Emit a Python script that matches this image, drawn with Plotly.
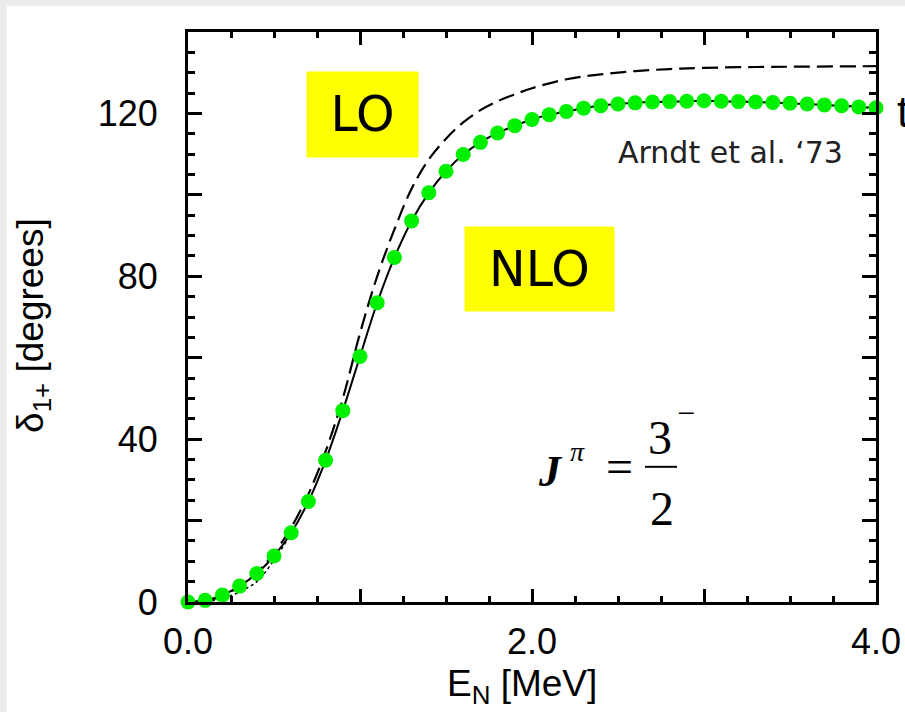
import plotly.graph_objects as go

# ---------------- data ----------------
arndt_energy = [0.0, 0.1, 0.2, 0.3, 0.4, 0.5, 0.6, 0.7, 0.8, 0.9,
                1.0, 1.1, 1.2, 1.3, 1.4, 1.5, 1.6, 1.7, 1.8, 1.9,
                2.0, 2.1, 2.2, 2.3, 2.4, 2.5, 2.6, 2.7, 2.8, 2.9,
                3.0, 3.1, 3.2, 3.3, 3.4, 3.5, 3.6, 3.7, 3.8, 3.9, 4.0]
arndt_phase = [0.0, 0.4, 1.7, 3.9, 7.0, 11.3, 17.0, 24.7, 34.8, 47.0,
               60.3, 73.5, 84.6, 93.6, 100.5, 105.8, 109.9, 112.9, 115.2, 117.0,
               118.5, 119.7, 120.5, 121.3, 121.9, 122.3, 122.6, 122.8, 122.9, 123.0,
               123.1, 123.0, 122.9, 122.8, 122.7, 122.5, 122.3, 122.1, 121.9, 121.6, 121.4]

nlo_energy = arndt_energy
nlo_phase = [0.0, 0.4, 1.7, 3.9, 7.0, 11.3, 17.0, 24.7, 34.8, 47.0,
             60.3, 73.5, 84.6, 93.6, 100.5, 105.8, 109.9, 112.9, 115.2, 117.0,
             118.5, 119.7, 120.5, 121.3, 121.9, 122.3, 122.6, 122.8, 122.9, 123.0,
             123.1, 123.0, 122.9, 122.8, 122.7, 122.5, 122.3, 122.1, 121.9, 121.6, 121.4]

lo_energy = [0.0, 0.1, 0.2, 0.3, 0.4, 0.5, 0.6, 0.7, 0.8, 0.9, 1.0, 1.1, 1.2, 1.3,
             1.4, 1.5, 1.6, 1.7, 1.8, 1.9, 2.0, 2.2, 2.4, 2.6, 2.8, 3.0, 3.3, 3.6, 4.0]
lo_phase = [0.0, 0.3, 1.5, 3.8, 7.2, 12.0, 18.3, 26.5, 37.0, 50.0, 66.0, 80.0, 91.5, 101.5,
            108.7, 113.8, 117.8, 120.8, 123.0, 124.7, 126.2, 128.4, 129.6, 130.4, 130.9,
            131.2, 131.4, 131.5, 131.6]

dotted_energy = [0.0, 0.1, 0.2, 0.3, 0.4, 0.5, 0.6]
dotted_phase = [0.0, 0.1, 0.8, 2.5, 5.0, 10.3, 16.8]

x_tickvals = [0, 1, 2, 3, 4]
x_ticktext = ["0.0", "", "2.0", "", "4.0"]
y_tickvals = [0, 20, 40, 60, 80, 100, 120, 140]
y_ticktext = ["0", "", "40", "", "80", "", "120", ""]

# ---------------- figure ----------------
fig = go.Figure()

fig.add_trace(go.Scatter(x=lo_energy, y=lo_phase, mode="lines",
                         line=dict(color="black", width=2.2, dash="16px,7px", shape="spline"),
                         hoverinfo="skip", showlegend=False))
fig.add_trace(go.Scatter(x=dotted_energy, y=dotted_phase, mode="lines",
                         line=dict(color="black", width=1.5, dash="dot", shape="spline"),
                         hoverinfo="skip", showlegend=False))
fig.add_trace(go.Scatter(x=nlo_energy, y=nlo_phase, mode="lines",
                         line=dict(color="black", width=2, shape="spline"),
                         hoverinfo="skip", showlegend=False))
fig.add_trace(go.Scatter(x=arndt_energy, y=arndt_phase, mode="markers",
                         marker=dict(color="#00f000", size=15, line=dict(width=0)),
                         cliponaxis=False, showlegend=False))

axis_common = dict(showgrid=False, zeroline=False, showline=True, linecolor="black",
                   linewidth=3, mirror="allticks", ticks="inside", tickcolor="black",
                   tickwidth=3, tickfont=dict(family="Liberation Sans, Arial", size=36, color="black"))

fig.update_xaxes(range=[0, 4], tickmode="array", tickvals=x_tickvals, ticktext=x_ticktext,
                 ticklen=13, ticklabelstandoff=6,
                 minor=dict(dtick=0.25, ticks="inside", ticklen=6, tickwidth=3, tickcolor="black"),
                 **axis_common)
fig.update_yaxes(range=[0, 140], tickmode="array", tickvals=y_tickvals, ticktext=y_ticktext,
                 ticklen=14, ticklabelstandoff=20,
                 minor=dict(dtick=5, ticks="inside", ticklen=7, tickwidth=3, tickcolor="black"),
                 **axis_common)

serif = "Liberation Serif, Times New Roman"
annotations = [
    dict(text="δ<sub>1+</sub> [degrees]", xref="paper", yref="paper", x=-0.2253, y=0.486,
         textangle=-90, xanchor="center", yanchor="middle", showarrow=False,
         font=dict(family="Liberation Sans, Arial", size=37, color="black")),
    dict(text="E<sub>N</sub> [MeV]", xref="paper", yref="paper", x=0.4855, y=-0.148,
         xanchor="center", yanchor="middle", showarrow=False,
         font=dict(family="Liberation Sans, Arial", size=37, color="black")),
    dict(text="LO", x=1.0145, y=119.7, xanchor="center", yanchor="middle", showarrow=False,
         bgcolor="#ffff00", width=111, height=85, borderpad=0,
         font=dict(family="DejaVu Sans", size=49, color="black")),
    dict(text="NLO", x=2.0436, y=81.8, xanchor="center", yanchor="middle", showarrow=False,
         bgcolor="#ffff00", width=149, height=84, borderpad=0,
         font=dict(family="DejaVu Sans", size=49, color="black")),
    dict(text="Arndt et al. ‘73", x=3.156, y=110.5, xanchor="center", yanchor="middle",
         showarrow=False, font=dict(family="DejaVu Sans", size=30, color="#222222")),
    dict(text="t", xref="paper", yref="paper", x=1.0276, y=0.86, xanchor="left", yanchor="middle",
         showarrow=False, font=dict(family="Liberation Sans, Arial", size=44, color="black")),
    dict(text="<b><i>J</i></b>", x=2.110, y=32.0, xanchor="center", yanchor="middle",
         showarrow=False, font=dict(family=serif, size=44, color="black")),
    dict(text="<i>π</i>", x=2.267, y=37.0, xanchor="center", yanchor="middle",
         showarrow=False, font=dict(family=serif, size=28, color="black")),
    dict(text="=", x=2.509, y=33.2, xanchor="center", yanchor="middle",
         showarrow=False, font=dict(family=serif, size=48, color="black")),
    dict(text="3", x=2.744, y=40.5, xanchor="center", yanchor="middle",
         showarrow=False, font=dict(family=serif, size=48, color="black")),
    dict(text="2", x=2.753, y=23.0, xanchor="center", yanchor="middle",
         showarrow=False, font=dict(family=serif, size=48, color="black")),
    dict(text="−", x=2.898, y=46.5, xanchor="center", yanchor="middle",
         showarrow=False, font=dict(family=serif, size=32, color="black")),
]

shapes = [
    dict(type="rect", xref="paper", yref="paper", x0=-0.2631, x1=1.2, y0=-0.4, y1=1.0456,
         fillcolor="white", line=dict(width=0), layer="below"),
    dict(type="line", x0=2.657, x1=2.843, y0=33.2, y1=33.2, line=dict(color="black", width=2)),
]

fig.update_layout(
    width=905, height=712,
    margin=dict(l=188, r=29, t=32, b=110, autoexpand=False),
    paper_bgcolor="#ebebeb", plot_bgcolor="rgba(0,0,0,0)",
    annotations=annotations, shapes=shapes, showlegend=False,
)

fig.write_html("out.html")
